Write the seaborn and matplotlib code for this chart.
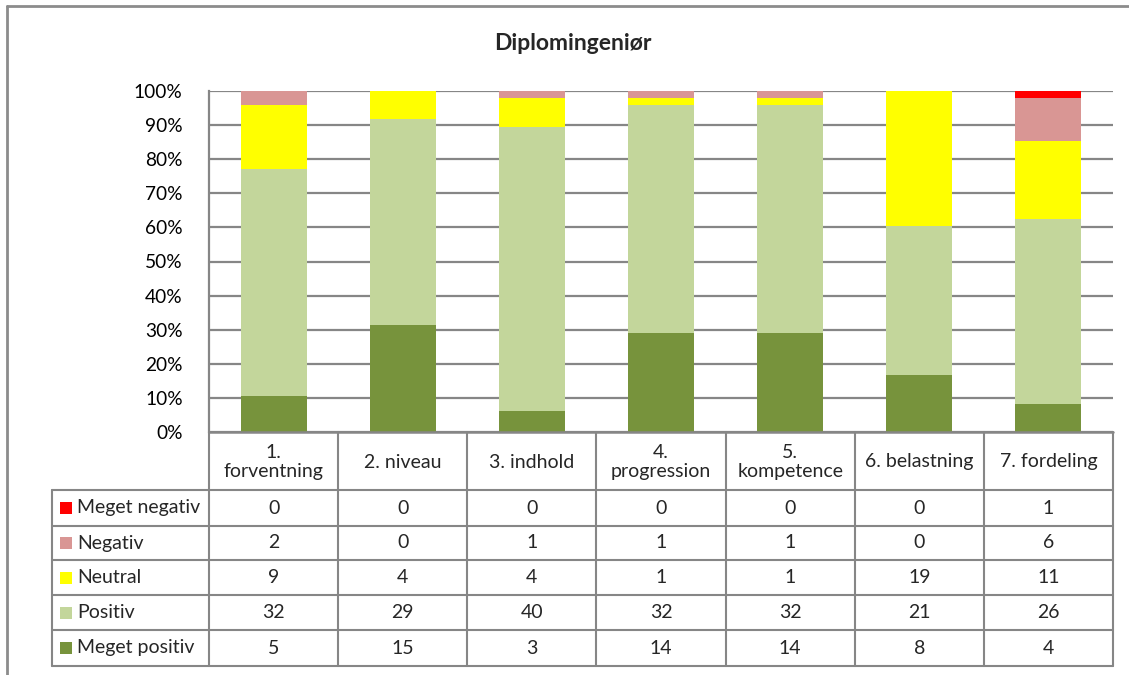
import matplotlib
matplotlib.use("Agg")
import matplotlib.pyplot as plt
import seaborn as sns
import numpy as np
import pandas as pd

# ---- data ----
categories = ["1. forventning", "2. niveau", "3. indhold", "4. progression",
              "5. kompetence", "6. belastning", "7. fordeling"]
header_labels = ["1.\nforventning", "2. niveau", "3. indhold", "4.\nprogression",
                 "5.\nkompetence", "6. belastning", "7. fordeling"]
series_names = ["Meget negativ", "Negativ", "Neutral", "Positiv", "Meget positiv"]
meget_negativ = [0, 0, 0, 0, 0, 0, 1]
negativ = [2, 0, 1, 1, 1, 0, 6]
neutral = [9, 4, 4, 1, 1, 19, 11]
positiv = [32, 29, 40, 32, 32, 21, 26]
meget_positiv = [5, 15, 3, 14, 14, 8, 4]
colors = {"Meget negativ": "#FF0000", "Negativ": "#D99694", "Neutral": "#FFFF00",
          "Positiv": "#C3D69B", "Meget positiv": "#77933C"}
title = "Diplomingeniør"

values = {"Meget negativ": meget_negativ, "Negativ": negativ, "Neutral": neutral,
          "Positiv": positiv, "Meget positiv": meget_positiv}

sns.set_style("white")
plt.rcParams["font.family"] = ["Lato", "DejaVu Sans"]

W, H = 1129, 675
fig = plt.figure(figsize=(W / 100, H / 100), dpi=100)

def fx(px):
    return px / W

def fy(py):
    return 1 - py / H

# outer chart border
fig.add_artist(plt.Line2D([fx(7), fx(7)], [fy(6), fy(675)], color="#8C8C8C", lw=2))
fig.add_artist(plt.Line2D([fx(7), fx(1129)], [fy(6), fy(6)], color="#8C8C8C", lw=2))

# ---- main plot area ----
L, R, T, B = 209, 1113, 91, 432
ax = fig.add_axes([fx(L), fy(B), fx(R) - fx(L), fy(T) - fy(B)])

totals = np.sum([values[s] for s in series_names], axis=0)
stack_order = ["Meget positiv", "Positiv", "Neutral", "Negativ", "Meget negativ"]
cum = np.zeros(len(categories))
cums = {}
for s in stack_order:
    cum = cum + np.array(values[s]) / totals
    cums[s] = cum.copy()

# draw overlapping cumulative bars from top to bottom
for s in reversed(stack_order):
    df = pd.DataFrame({"cat": categories, "val": cums[s]})
    sns.barplot(data=df, x="cat", y="val", color=colors[s], width=0.51,
                saturation=1, ax=ax, linewidth=0, zorder=3)

ax.set_xlim(-0.5, len(categories) - 0.5)
ax.set_ylim(0, 1)
ticks = np.arange(0, 1.01, 0.1)
ax.set_yticks(ticks)
ax.set_yticklabels([f"{int(round(v*100))}%" for v in ticks],
                   fontsize=13.8, color="black")
ax.tick_params(axis="y", length=0, pad=19)
ax.set_xticks([])
ax.set_xlabel("")
ax.set_ylabel("")
ax.grid(axis="y", color="#868686", lw=1.6, zorder=0)
for sp in ["top", "right", "bottom"]:
    ax.spines[sp].set_visible(False)
ax.spines["left"].set_color("#868686")
ax.spines["left"].set_linewidth(1.6)

fig.text(fx(573), fy(44), title, ha="center", va="center",
         fontsize=16.5, fontweight="bold")

# ---- data table ----
TL = 52
rows_y = [432, 490, 526, 560, 595, 630, 666]
colw = (R - L) / len(categories)
tax = fig.add_axes([fx(TL), fy(rows_y[-1]), fx(R) - fx(TL), fy(432) - fy(rows_y[-1])])
tax.set_xlim(-0.5 - (L - TL) / colw, len(categories) - 0.5)
tax.set_ylim(rows_y[-1], 432)
tax.axis("off")
lc = "#868686"
xl = -0.5 - (L - TL) / colw
# horizontal lines
tax.plot([-0.5, len(categories) - 0.5], [432, 432], color=lc, lw=1.8, clip_on=False)
for y in rows_y[1:]:
    tax.plot([xl, len(categories) - 0.5], [y, y], color=lc, lw=1.5, clip_on=False)
# vertical lines
for i in range(len(categories) + 1):
    tax.plot([i - 0.5, i - 0.5], [432, rows_y[-1]], color=lc, lw=1.5, clip_on=False)
tax.plot([xl, xl], [rows_y[1], rows_y[-1]], color=lc, lw=1.5, clip_on=False)

fs = 14
# header
for i, lab in enumerate(header_labels):
    tax.text(i, (rows_y[0] + rows_y[1]) / 2 + 1, lab, ha="center", va="center",
             fontsize=fs, linespacing=1.1)

# rows
for r, s in enumerate(series_names):
    yc = (rows_y[r + 1] + rows_y[r + 2]) / 2
    sq = 12 / colw
    tax.add_patch(plt.Rectangle((xl + 8 / colw, yc - 6), sq, 12,
                                facecolor=colors[s], edgecolor="none", clip_on=False))
    tax.text(xl + 25 / colw, yc, s, ha="left", va="center", fontsize=fs)
    for i, v in enumerate(values[s]):
        tax.text(i, yc, str(v), ha="center", va="center", fontsize=fs)

fig.savefig("out.png", dpi=100)
